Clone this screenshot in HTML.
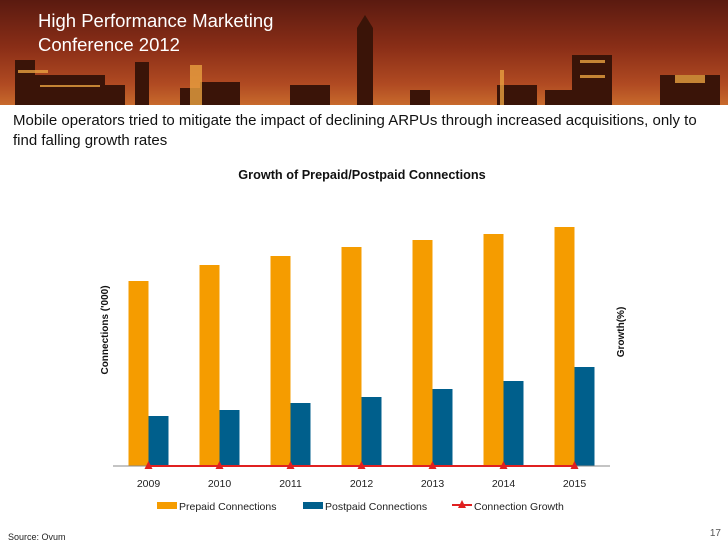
<!DOCTYPE html>
<html><head><meta charset="utf-8"><style>
body{margin:0;width:728px;height:546px;overflow:hidden;background:#fff;font-family:"Liberation Sans",sans-serif;position:relative}
.abs{position:absolute}
</style></head><body>
<div class="abs" style="left:0;top:0;width:728px;height:105px;background:linear-gradient(180deg,#5a1a10 0%,#8a2e17 45%,#b04a22 80%,#c86a2c 100%)">
<svg width="728" height="105" style="position:absolute;left:0;top:0">
<g fill="#3a1408">
<rect x="15" y="60" width="20" height="45"/><rect x="35" y="75" width="70" height="30"/><rect x="105" y="85" width="20" height="20"/>
<rect x="135" y="62" width="14" height="43"/><rect x="180" y="88" width="25" height="17"/><rect x="200" y="82" width="40" height="23"/>
<rect x="357" y="28" width="16" height="77"/><polygon points="357,28 365,15 373,28"/>
<rect x="290" y="85" width="40" height="20"/><rect x="410" y="90" width="20" height="15"/>
<rect x="497" y="85" width="40" height="20"/><rect x="545" y="90" width="30" height="15"/>
<rect x="572" y="55" width="40" height="50"/><rect x="660" y="75" width="60" height="30"/>
</g>
<g fill="#e8a040" opacity="0.8">
<rect x="18" y="70" width="30" height="3"/><rect x="40" y="85" width="60" height="2"/><rect x="190" y="65" width="12" height="40"/>
<rect x="675" y="75" width="30" height="8"/><rect x="580" y="60" width="25" height="3"/><rect x="580" y="75" width="25" height="3"/>
<rect x="500" y="70" width="4" height="35"/>
</g>
</svg>
<div class="abs" style="left:38px;top:9px;color:#fff;font-size:18.5px;line-height:24px">High Performance Marketing<br>Conference 2012</div>
</div>
<div class="abs" style="left:13px;top:111px;font-size:15px;line-height:20px;color:#111">Mobile operators tried to mitigate the impact of declining ARPUs through increased acquisitions, only to<br>find falling growth rates</div>
<svg class="abs" style="left:0;top:0" width="728" height="546" id="chart">
<text x="362" y="179" text-anchor="middle" font-size="12.7" font-weight="bold" fill="#111">Growth of Prepaid/Postpaid Connections</text>
<text transform="translate(108,330) rotate(-90)" text-anchor="middle" font-size="10" font-weight="bold" fill="#111">Connections ('000)</text>
<text transform="translate(624,332) rotate(-90)" text-anchor="middle" font-size="10" font-weight="bold" fill="#111">Growth(%)</text>
<g id="plot"></g>
<g font-size="10.5" fill="#222">
<rect x="157" y="502" width="20" height="7" fill="#f59c00"/>
<text x="179" y="510">Prepaid Connections</text>
<rect x="303" y="502" width="20" height="7" fill="#005f8c"/>
<text x="325" y="510">Postpaid Connections</text>
<line x1="452" y1="505" x2="472" y2="505" stroke="#e02020" stroke-width="2"/>
<polygon points="462,500 466,508 458,508" fill="#e02020"/>
<text x="474" y="510">Connection Growth</text>
</g>
<text x="8" y="540" font-size="9" fill="#222">Source: Ovum</text>
<text x="721" y="536" text-anchor="end" font-size="10" fill="#555">17</text>
</svg>
<script>
const categories=["2009","2010","2011","2012","2013","2014","2015"];
const prepaid=[185,201,210,219,226,232,239];
const postpaid=[50,56,63,69,77,85,99];
const growth=[0,0,0,0,0,0,0];
const NS="http://www.w3.org/2000/svg";
const g=document.getElementById('plot');
const x0=113,bw=71,base=466,yMax=250,plotH=250;
const xc=i=>x0+bw*(i+0.5);
const y=v=>base-v/yMax*plotH;
const yg=v=>base-v*10;
function mk(t,a){const e=document.createElementNS(NS,t);for(const k in a)e.setAttribute(k,a[k]);g.appendChild(e);return e;}
categories.forEach((c,i)=>{
 let r=mk('rect',{x:xc(i)-20,y:y(prepaid[i]),width:20,height:base-y(prepaid[i]),fill:'#f59c00'});
 
 
 let r2=mk('rect',{x:xc(i),y:y(postpaid[i]),width:20,height:base-y(postpaid[i]),fill:'#005f8c'});
 
 
 let t=mk('text',{x:xc(i),y:487,'text-anchor':'middle','font-size':'10.5',fill:'#222'});t.textContent=c;
 
 
});
let ax=mk('line',{x1:x0,y1:base,x2:610,y2:base,stroke:'#888','stroke-width':1});


let pl=mk('polyline',{points:growth.map((v,i)=>xc(i)+','+yg(v)).join(' '),fill:'none',stroke:'#e02020','stroke-width':2});


growth.forEach((v,i)=>{
 const cx=xc(i),cy=yg(v);
 let m=mk('polygon',{points:`${cx},${cy-5} ${cx+4},${cy+3} ${cx-4},${cy+3}`,fill:'#e02020'});
 
 
});
</script>
</body></html>
